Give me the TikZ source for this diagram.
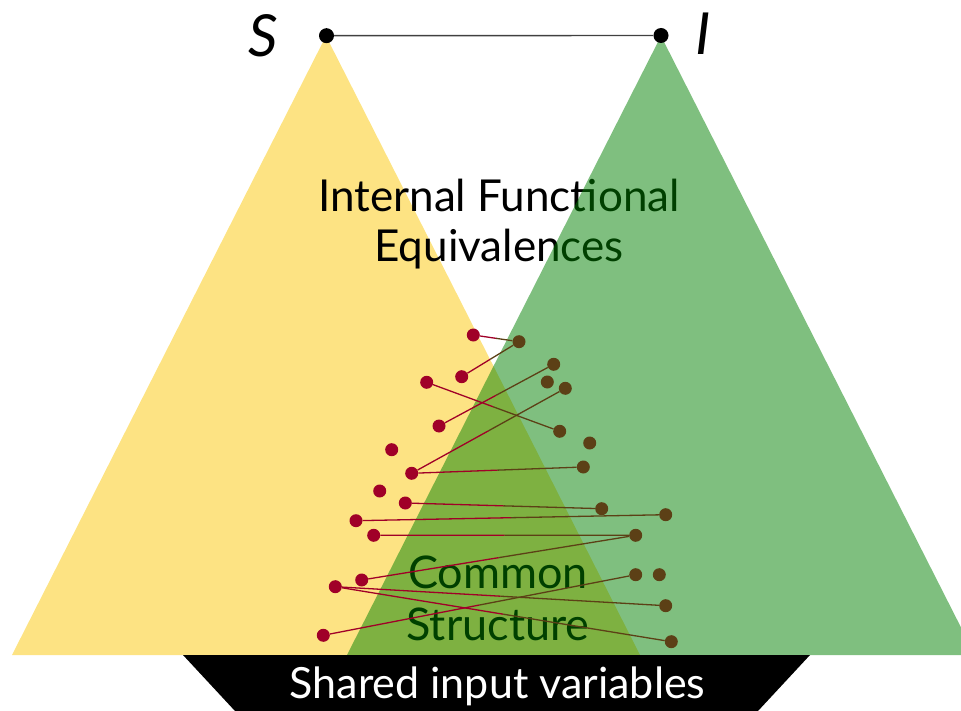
\documentclass[tikz,border=0pt]{standalone}
\usepackage{fontspec}
\setmainfont{Lato}
\usetikzlibrary{calc}
\definecolor{tyellow}{RGB}{253,227,131}
\definecolor{tgreen}{RGB}{0,128,0}
\definecolor{dotred}{RGB}{160,0,40}
\definecolor{dotbrown}{RGB}{92,64,22}
\tikzset{
  rdot/.style={circle,fill=dotred,inner sep=0pt,minimum size=13pt},
  bdot/.style={circle,fill=dotbrown,inner sep=0pt,minimum size=13pt},
  apexdot/.style={circle,fill=black,inner sep=0pt,minimum size=15pt},
  lred/.style={draw=dotred,line width=1.3pt},
  lbrown/.style={draw=dotbrown,line width=1.3pt},
  bigtext/.style={font=\fontsize{44}{48}\selectfont,inner sep=0pt,anchor=base},
}
\newcommand{\linkdots}[2]{%
  \draw[lred] (#1) -- ($(#1.center)!0.5!(#2.center)$);
  \draw[lbrown] ($(#1.center)!0.5!(#2.center)$) -- (#2);}
\begin{document}
\begin{tikzpicture}[x=1pt,y=-1pt]
\useasboundingbox (0,0) rectangle (961,711);
% yellow triangle
\fill[tyellow] (326,36) -- (12,655) -- (640,655) -- cycle;
% texts under green
\node[bigtext] (ifl1) at (499,211.7) {Internal Functional};
\node[bigtext] (ifl2) at (499,261.7) {Equivalences};
\node[bigtext,font=\fontsize{45}{48}\selectfont] (cs1) at (498,588.3) {Common};
\node[bigtext,font=\fontsize{45}{48}\selectfont] (cs2) at (498,640) {Structure};
% green triangle
\fill[tgreen,fill opacity=0.5] (661,36) -- (347,655) -- (975,655) -- cycle;
% black base
\fill[black] (183,655) -- (810,655) -- (758,711) -- (235,711) -- cycle;
\node[bigtext,font=\fontsize{43}{46}\selectfont,text=white] (shared) at (497.5,698) {Shared input variables};
% apex
\node[apexdot] (S) at (326.5,35.7) {};
\node[apexdot] (I) at (661,35.5) {};
\draw[line width=1.4pt,black!75] (S) -- (I);
\node[font=\fontsize{58}{60}\selectfont\itshape] (Slab) at (263,36) {S};
\node[font=\fontsize{58}{60}\selectfont\itshape] (Ilab) at (703,34) {I};
% red dots
\node[rdot] (r1) at (473.3,335) {};
\node[rdot] (r2) at (461.7,376.7) {};
\node[rdot] (r3) at (426.7,382.3) {};
\node[rdot] (r4) at (439,426) {};
\node[rdot] (r5) at (391.7,449.7) {};
\node[rdot] (r6) at (411.7,473.3) {};
\node[rdot] (r7) at (379.7,491) {};
\node[rdot] (r8) at (405.3,503) {};
\node[rdot] (r9) at (356,520.7) {};
\node[rdot] (r10) at (373.7,535.3) {};
\node[rdot] (r11) at (361.7,580) {};
\node[rdot] (r12) at (335.3,586.7) {};
\node[rdot] (r13) at (323.3,635.3) {};
% brown dots
\node[bdot] (ba) at (519,341.7) {};
\node[bdot] (bb) at (553.7,364.3) {};
\node[bdot] (bc) at (547.3,382) {};
\node[bdot] (bd) at (565.3,388.3) {};
\node[bdot] (be) at (559.7,431.3) {};
\node[bdot] (bf) at (589.7,443) {};
\node[bdot] (bg) at (583.3,467) {};
\node[bdot] (bh) at (601.7,508.7) {};
\node[bdot] (bi) at (665.7,514.7) {};
\node[bdot] (bj) at (635.7,535.3) {};
\node[bdot] (bk) at (635.7,574.7) {};
\node[bdot] (bl) at (659.3,574.7) {};
\node[bdot] (bm) at (665.7,605.7) {};
\node[bdot] (bn) at (671.3,641.7) {};
% links
\linkdots{r1}{ba}
\linkdots{r2}{ba}
\linkdots{r3}{be}
\linkdots{r4}{bb}
\linkdots{r6}{bd}
\linkdots{r6}{bg}
\linkdots{r8}{bh}
\linkdots{r9}{bi}
\linkdots{r10}{bj}
\linkdots{r11}{bj}
\linkdots{r12}{bm}
\linkdots{r12}{bn}
\linkdots{r13}{bk}
\end{tikzpicture}
\end{document}
